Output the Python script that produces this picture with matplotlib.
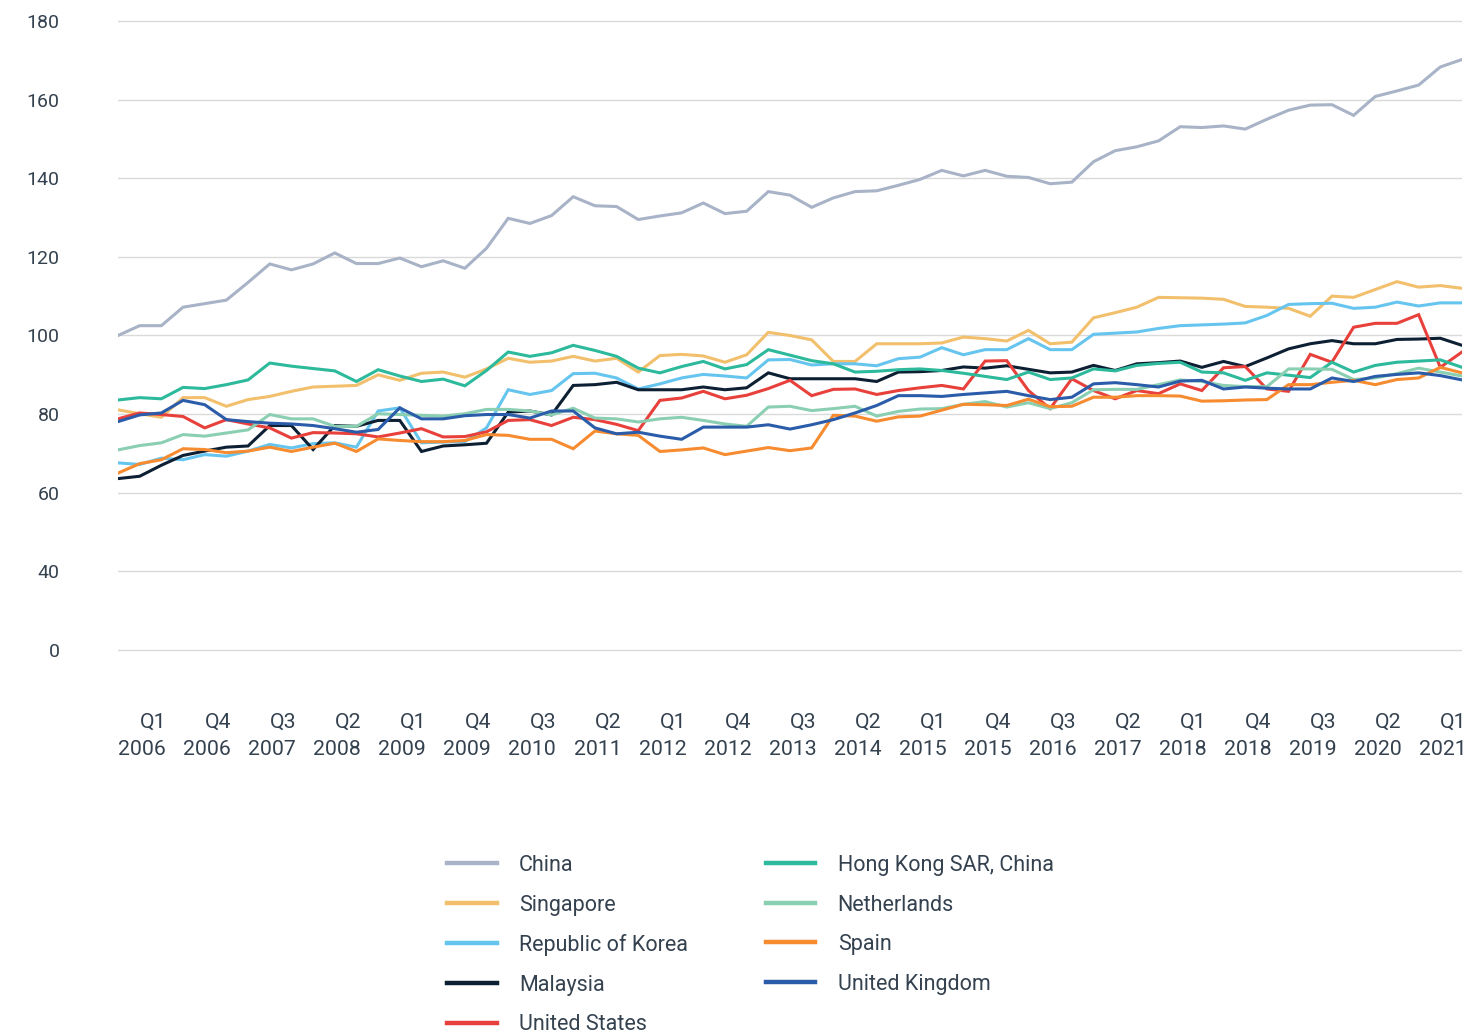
import pandas as pd
import matplotlib
matplotlib.use('Agg')
from matplotlib import pyplot as plt
from matplotlib import transforms

# trimestres Q1 2006 .. Q3 2021
trimestres = pd.period_range('2006Q1', periods=63, freq='Q')

china = [100, 102.5, 102.5, 107.2, 108.1, 109, 113.5, 118.2, 116.7, 118.2, 121, 118.3, 118.3, 119.7, 117.5, 119,
         117.1, 122.2, 129.8, 128.5, 130.5, 135.3, 133, 132.8, 129.5, 130.4, 131.2, 133.7, 131, 131.6, 136.6, 135.7,
         132.6, 135, 136.6, 136.8, 138.2, 139.7, 142, 140.6, 142, 140.5, 140.2, 138.6, 139, 144.2, 147, 148,
         149.5, 153.1, 152.9, 153.3, 152.5, 155, 157.3, 158.6, 158.7, 156, 160.8, 162.2, 163.7, 168.3, 170.2]
singapore = [81.1, 80.1, 79.2, 84.2, 84.2, 82, 83.7, 84.5, 85.8, 86.9, 87.1, 87.3, 90, 88.6, 90.4, 90.7,
             89.4, 91.5, 94.2, 93.2, 93.5, 94.7, 93.5, 94.2, 90.7, 94.9, 95.2, 94.8, 93.2, 95.1, 100.8, 100,
             98.9, 93.4, 93.4, 97.9, 97.9, 97.9, 98.1, 99.6, 99.2, 98.6, 101.3, 97.9, 98.3, 104.5, 105.8, 107.2,
             109.7, 109.6, 109.5, 109.2, 107.4, 107.2, 106.9, 104.9, 110, 109.7, 111.7, 113.7, 112.3, 112.7, 112]
korea = [67.6, 67.2, 68.8, 68.4, 69.7, 69.3, 70.6, 72.3, 71.4, 72.5, 72.7, 71.6, 80.8, 81.6, 72.7, 72.9,
         73, 76.5, 86.2, 85, 86, 90.3, 90.4, 89.2, 86.4, 87.7, 89.2, 90.1, 89.7, 89.2, 93.8, 93.9,
         92.5, 92.8, 92.8, 92.3, 94.1, 94.5, 96.9, 95.1, 96.4, 96.4, 99.2, 96.4, 96.4, 100.3, 100.6, 100.9,
         101.8, 102.5, 102.7, 102.9, 103.2, 105.1, 107.9, 108.1, 108.2, 106.9, 107.2, 108.5, 107.5, 108.3, 108.3]
malaysia = [63.6, 64.2, 67, 69.5, 70.6, 71.6, 71.9, 77.1, 77.1, 71, 77.1, 76.9, 78.4, 78.4, 70.5, 71.9,
            72.2, 72.6, 80.5, 80.8, 79.8, 87.3, 87.5, 88.1, 86.2, 86.2, 86.2, 86.9, 86.2, 86.7, 90.5, 89,
            89, 89, 89, 88.3, 90.7, 90.8, 91.1, 92, 91.7, 92.3, 91.4, 90.5, 90.7, 92.4, 91.1, 92.8,
            93.1, 93.5, 91.9, 93.4, 92.1, 94.3, 96.6, 97.9, 98.7, 97.9, 97.9, 99, 99.1, 99.3, 97.5]
estados_unidos = [78.8, 80.3, 79.9, 79.4, 76.5, 78.6, 77.5, 76.5, 73.9, 75.3, 75.2, 75, 74.2, 75.2, 76.3, 74.2,
                  74.3, 75.5, 78.4, 78.6, 77.1, 79.2, 78.6, 77.4, 75.8, 83.5, 84.1, 85.8, 83.9, 84.8, 86.5, 88.6,
                  84.7, 86.3, 86.4, 85, 86, 86.7, 87.3, 86.4, 93.5, 93.6, 86, 81.4, 89, 86, 83.9, 86,
                  85.2, 87.7, 86, 91.8, 92.1, 86.4, 85.8, 95.2, 93.2, 102.1, 103.1, 103.1, 105.3, 91.9, 95.8]
hong_kong = [83.6, 84.2, 83.9, 86.8, 86.5, 87.5, 88.7, 93, 92.2, 91.6, 91, 88.3, 91.3, 89.7, 88.3, 88.9,
             87.2, 91.1, 95.8, 94.7, 95.6, 97.5, 96.2, 94.7, 91.7, 90.5, 92.1, 93.4, 91.5, 92.6, 96.4, 95,
             93.6, 92.8, 90.7, 90.9, 91.3, 91.5, 91.1, 90.4, 89.6, 88.8, 90.7, 88.8, 89.2, 91.5, 91, 92.4,
             92.9, 93.2, 90.7, 90.5, 88.6, 90.5, 89.9, 89.3, 93.2, 90.7, 92.4, 93.2, 93.5, 93.8, 91.9]
holanda = [70.9, 72, 72.7, 74.8, 74.4, 75.2, 76, 79.9, 78.8, 78.8, 76.9, 76.9, 80.1, 79.9, 79.7, 79.5,
           80.1, 81.2, 81.2, 80.8, 79.8, 81.5, 79, 78.8, 78, 78.8, 79.2, 78.4, 77.5, 76.9, 81.8, 82,
           80.9, 81.4, 82, 79.5, 80.7, 81.3, 81.4, 82.5, 83.2, 81.8, 82.9, 81.4, 82.9, 86.2, 86.3, 86.3,
           87.5, 88.7, 88.3, 87.3, 87, 87, 91.5, 91.5, 91.4, 88.8, 89.2, 90.3, 91.7, 90.7, 89.7]
espanha = [65, 67.4, 68.4, 71.2, 71, 70.2, 70.6, 71.6, 70.5, 71.6, 72.6, 70.5, 73.7, 73.3, 73, 73,
           73.3, 74.8, 74.6, 73.6, 73.6, 71.2, 75.7, 75, 74.6, 70.5, 70.9, 71.4, 69.7, 70.6, 71.5, 70.7,
           71.4, 79.7, 79.5, 78.2, 79.3, 79.5, 81, 82.5, 82.4, 82.2, 83.8, 81.9, 82, 84.3, 84.3, 84.7,
           84.7, 84.6, 83.3, 83.4, 83.6, 83.7, 87.5, 87.5, 88.1, 88.6, 87.5, 88.8, 89.2, 91.9, 90.5]
reino_unido = [78.1, 79.8, 80.3, 83.5, 82.4, 78.6, 78.1, 77.7, 77.5, 77.1, 76.3, 75.4, 76.1, 81.6, 78.8, 78.8,
               79.6, 79.9, 79.9, 79, 80.8, 80.8, 76.5, 75, 75.4, 74.4, 73.6, 76.7, 76.7, 76.7, 77.3, 76.2,
               77.3, 78.6, 80.3, 82.2, 84.7, 84.7, 84.5, 85, 85.4, 85.8, 84.7, 83.7, 84.3, 87.7, 88, 87.5,
               86.9, 88.4, 88.6, 86.4, 86.9, 86.6, 86.4, 86.4, 89.2, 88.3, 89.6, 90.1, 90.5, 89.8, 88.7]

paises = ['China', 'Singapore', 'Republic of Korea', 'Malaysia', 'United States',
          'Hong Kong SAR, China', 'Netherlands', 'Spain', 'United Kingdom']
series = [china, singapore, korea, malaysia, estados_unidos,
          hong_kong, holanda, espanha, reino_unido]
cores = ['#a8b3c7', '#f2bf6c', '#66c5ef', '#0d1f33', '#e8403b',
         '#2db99b', '#8bcfb2', '#f68b30', '#2b5ca9']

# rótulos do eixo y (o original mostra 0 na primeira linha)
y_pos = [20, 40, 60, 80, 100, 120, 140, 160, 180]
y_rotulos = ['0', '40', '60', '80', '100', '120', '140', '160', '180']

plt.rcParams['font.family'] = ['Roboto', 'DejaVu Sans']
cor_texto = '#34414f'

W, H = 1484, 1034
fig = plt.figure(figsize=(W / 100, H / 100), dpi=100)
ax = fig.add_axes([118 / W, 1 - 652 / H, (1462 - 118) / W, (652 - 19) / H])

x = list(range(len(trimestres)))
for nome, valores, cor in zip(paises, series, cores):
    ax.plot(x, valores, color=cor, lw=2.2, label=nome, solid_joinstyle='miter')

ax.set_xlim(0, len(trimestres) - 1)
ax.set_ylim(19.5, 180.5)
ax.set_yticks(y_pos)
ax.set_yticklabels(y_rotulos)
ax.grid(axis='y', color='#dadada', lw=1)
ax.set_axisbelow(True)
for s in ax.spines.values():
    s.set_visible(False)

ticks = list(range(0, 61, 3))
ax.set_xticks(ticks)
ax.set_xticklabels([f'Q{trimestres[i].quarter}\n{trimestres[i].year}' for i in ticks])
ax.tick_params(axis='y', length=0, pad=42, labelsize=14, labelcolor=cor_texto)
ax.tick_params(axis='x', length=0, pad=44, labelsize=15.3, labelcolor=cor_texto)

desloc = transforms.ScaledTranslation(48 / 100, 0, fig.dpi_scale_trans)
for lbl in ax.get_xticklabels():
    lbl.set_horizontalalignment('right')
    lbl.set_multialignment('right')
    lbl.set_linespacing(1.55)
    lbl.set_transform(lbl.get_transform() + desloc)

leg = fig.legend(loc='upper left', bbox_to_anchor=(447 / W, 1 - 855 / H), ncol=2,
                 frameon=False, fontsize=15.5, handlelength=2.3, handletextpad=1.05,
                 labelspacing=0.86, columnspacing=3.6, borderpad=0, borderaxespad=0)
for linha in leg.get_lines():
    linha.set_linewidth(3.2)
for t in leg.get_texts():
    t.set_color(cor_texto)

fig.savefig('out.png', dpi=100)
